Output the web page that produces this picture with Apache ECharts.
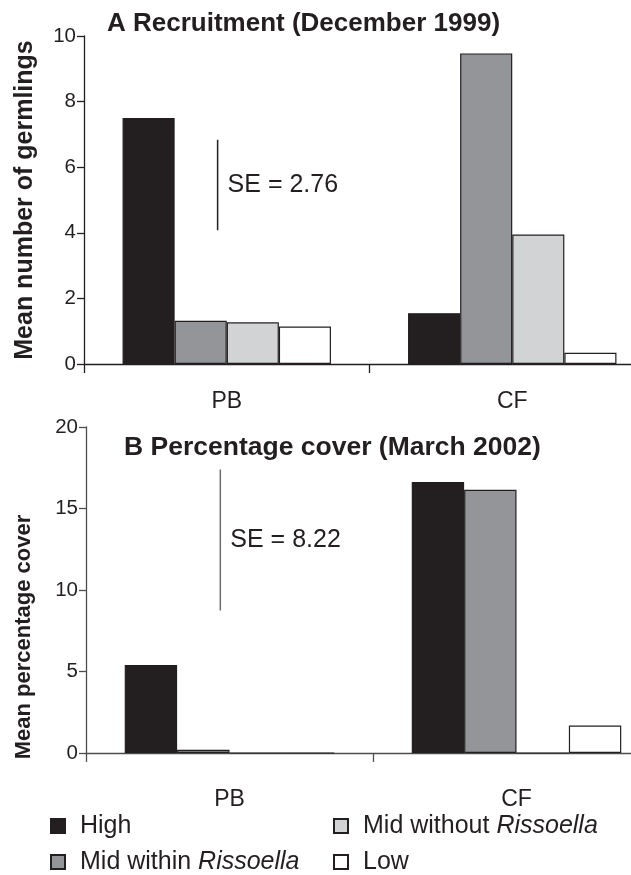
<!DOCTYPE html>
<html>
<head>
<meta charset="utf-8">
<script src="https://cdn.jsdelivr.net/npm/echarts@6/dist/echarts.min.js"></script>
<style>html,body{margin:0;padding:0;background:#fff}#c{width:631px;height:875px}</style>
</head>
<body>
<div id="c"></div>
<script>
// ---- data ----
const categories = ['PB', 'CF'];
const seriesNames = ['High', 'Mid within Rissoella', 'Mid without Rissoella', 'Low'];
// Panel A: Recruitment (December 1999), mean number of germlings
const recruitHigh = [7.5, 1.55];
const recruitMidWithin = [1.32, 9.47];
const recruitMidWithout = [1.27, 3.95];
const recruitLow = [1.14, 0.34];
// Panel B: Percentage cover (March 2002)
const coverHigh = [5.4, 16.63];
const coverMidWithin = [0.2, 16.15];
const coverMidWithout = [0, 0];
const coverLow = [0, 1.69];
// SE bars (value ranges) and labels
const seA = [4.08, 6.84];
const seB = [8.75, 17.4];
const seLabels = ['SE = 2.76', 'SE = 8.22'];
const yTicksA = [0, 2, 4, 6, 8, 10];
const yTicksB = [0, 5, 10, 15, 20];

// ---- styles ----
const INK = '#231f20';
const fills = ['#231f20', '#939598', '#d1d3d4', '#ffffff'];
const FONT = 'Liberation Sans, Arial, Helvetica, sans-serif';
const seX = 0.468; // position within category units

const panelA = [recruitHigh, recruitMidWithin, recruitMidWithout, recruitLow];
const panelB = [coverHigh, coverMidWithin, coverMidWithout, coverLow];

function barSeries(values, gi) {
  return values.map((v, i) => ({
    type: 'bar', name: seriesNames[i], xAxisIndex: gi * 2, yAxisIndex: gi,
    data: v, barGap: '0%', barCategoryGap: '27%',
    itemStyle: { color: fills[i], borderColor: INK, borderWidth: 1.2 },
    emphasis: { disabled: true }, animation: false
  }));
}
function seSeries(range, label, gi, color) {
  return [
    { type: 'line', xAxisIndex: gi * 2 + 1, yAxisIndex: gi, data: [[seX, range[0]], [seX, range[1]]],
      symbol: 'none', lineStyle: { color: color, width: 1.5 }, animation: false, silent: true },
    { type: 'scatter', xAxisIndex: gi * 2 + 1, yAxisIndex: gi, data: [[seX, (range[0] + range[1]) / 2]],
      symbolSize: 0, silent: true, animation: false, itemStyle: { opacity: 1 },
      label: { show: true, position: 'right', distance: 10, formatter: label, color: INK, opacity: 1,
        fontSize: 25, fontFamily: FONT } }
  ];
}
function catAxis(gi, color, margin) {
  return { type: 'category', gridIndex: gi, data: categories,
    axisLine: { lineStyle: { color: color, width: 1.3 } },
    axisTick: { show: true, length: 9, lineStyle: { color: color, width: 1.3 } },
    axisLabel: { color: INK, fontSize: 23, fontFamily: FONT, margin: margin } };
}
function hiddenX(gi) {
  return { type: 'value', gridIndex: gi, min: 0, max: 2, show: false };
}
function valAxis(gi, max, interval, color) {
  return { type: 'value', gridIndex: gi, min: 0, max: max, interval: interval,
    axisLine: { show: true, lineStyle: { color: color, width: 1.3 } },
    axisTick: { show: true, length: 7, lineStyle: { color: color, width: 1.3 } },
    splitLine: { show: false },
    axisLabel: { color: INK, fontSize: 20.5, fontFamily: FONT, margin: 8 } };
}
function legendItem(name, left, top) {
  return {
    left: left, top: top, orient: 'vertical', icon: 'rect', itemWidth: 14, itemHeight: 14,
    selectedMode: false, data: [name], padding: 0,
    textStyle: { color: INK, fontSize: 25, fontFamily: FONT, lineHeight: 30, padding: [0, 0, 0, 10],
      rich: { i: { fontStyle: 'italic', fontSize: 25, fontFamily: FONT, color: INK, lineHeight: 30 } } },
    formatter: n => n.replace('Rissoella', '{i|Rissoella}')
  };
}

const chart = echarts.init(document.getElementById('c'), null, { renderer: 'canvas' });
chart.setOption({
  backgroundColor: '#fff',
  animation: false,
  title: [
    { text: 'A Recruitment (December 1999)', left: 102, top: 6,
      textStyle: { color: INK, fontSize: 26, fontWeight: 'bold', fontFamily: FONT } },
    { text: 'B Percentage cover (March 2002)', left: 119, top: 429,
      textStyle: { color: INK, fontSize: 26.5, fontWeight: 'bold', fontFamily: FONT } }
  ],
  grid: [
    { left: 84, top: 36, width: 571, height: 328, outerBoundsMode: 'none', containLabel: false },
    { left: 86, top: 427, width: 574, height: 326, outerBoundsMode: 'none', containLabel: false }
  ],
  xAxis: [catAxis(0, INK, 26), hiddenX(0), catAxis(1, '#4d4d4f', 35), hiddenX(1)],
  yAxis: [valAxis(0, yTicksA[yTicksA.length - 1], yTicksA[1] - yTicksA[0], INK),
          valAxis(1, yTicksB[yTicksB.length - 1], yTicksB[1] - yTicksB[0], '#4d4d4f')],
  legend: [
    legendItem(seriesNames[0], 50, 811),
    legendItem(seriesNames[1], 50, 847),
    legendItem(seriesNames[2], 333, 811),
    legendItem(seriesNames[3], 333, 847)
  ],
  graphic: [
    { type: 'text', x: 13, y: 200, rotation: Math.PI / 2,
      style: { text: 'Mean number of germlings', font: 'bold 25px ' + FONT, fill: INK, align: 'center', verticalAlign: 'top' } },
    { type: 'text', x: 13, y: 637, rotation: Math.PI / 2,
      style: { text: 'Mean percentage cover', font: 'bold 22px ' + FONT, fill: INK, align: 'center', verticalAlign: 'top' } }
  ],
  series: [].concat(
    barSeries(panelA, 0),
    barSeries(panelB, 1),
    seSeries(seA, seLabels[0], 0, INK),
    seSeries(seB, seLabels[1], 1, '#6d6e71')
  )
});
</script>
</body>
</html>
